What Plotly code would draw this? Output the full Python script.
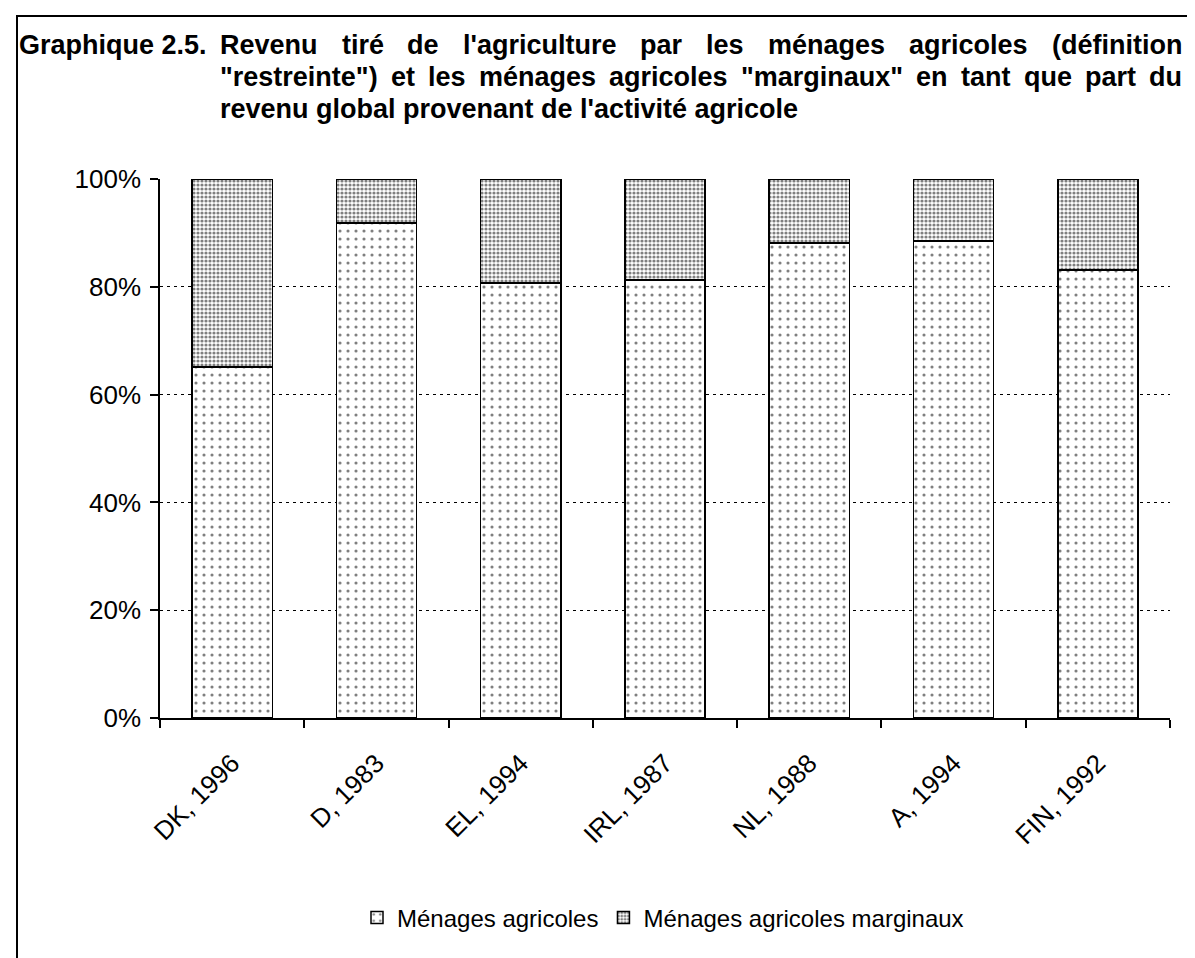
import plotly.graph_objects as go

categories = ["DK, 1996", "D, 1983", "EL, 1994", "IRL, 1987", "NL, 1988", "A, 1994", "FIN, 1992"]
menages_agricoles = [65.1, 91.8, 80.7, 81.3, 88.1, 88.5, 83.1]
menages_marginaux = [34.9, 8.2, 19.3, 18.7, 11.9, 11.5, 16.9]
y_ticks = [0, 20, 40, 60, 80, 100]
y_tick_labels = ["0%", "20%", "40%", "60%", "80%", "100%"]

title_label = "Graphique 2.5."
title_line1 = "Revenu tiré de l'agriculture par les ménages agricoles (définition"
title_line2 = "\"restreinte\") et les ménages agricoles \"marginaux\" en tant que part du"
title_line3 = "revenu global provenant de l'activité agricole"

OFF = 8  # page body margin
W, H = 1195 - OFF, 958 - OFF
# screen coordinates of plot area
SL, SR, ST, SB = 160, 1170, 179, 718
L, R, T, B = SL - OFF, SR - OFF, ST - OFF, SB - OFF
FONT = "Arial, Liberation Sans, sans-serif"


def px(x):
    return (x - SL) / (SR - SL)


def py(y):
    return (SB - y) / (SB - ST)


# Arial/Helvetica Bold advance widths (per 1000 em) for justification
AW = {
    'a': 556, 'b': 611, 'c': 556, 'd': 611, 'e': 556, 'f': 333, 'g': 611, 'h': 611, 'i': 278,
    'j': 278, 'k': 556, 'l': 278, 'm': 889, 'n': 611, 'o': 611, 'p': 611, 'q': 611, 'r': 389,
    's': 556, 't': 333, 'u': 611, 'v': 556, 'w': 778, 'x': 556, 'y': 556, 'z': 500, 'é': 556,
    'R': 722, 'G': 778, '"': 474, "'": 238, '(': 333, ')': 333, '.': 278, ' ': 278,
}


def text_w(s, size):
    return sum(AW.get(c, 556) for c in s) * size / 1000.0


fig = go.Figure()
fig.add_trace(go.Bar(
    x=categories, y=menages_agricoles, name="Ménages agricoles", width=0.556,
    marker=dict(color="white", line=dict(color="black", width=1.5),
                pattern=dict(shape=".", fgcolor="black", bgcolor="white", size=8, solidity=0.12)),
))
fig.add_trace(go.Bar(
    x=categories, y=menages_marginaux, name="Ménages agricoles marginaux", width=0.556,
    marker=dict(color="white", line=dict(color="black", width=1.5),
                pattern=dict(shape=".", fgcolor="black", bgcolor="white", size=4, solidity=0.5)),
))

annotations = []
TS = 27
annotations.append(dict(text="<b>" + title_label + "</b>", x=px(17), y=py(45), xref="paper", yref="paper",
                        xanchor="left", yanchor="middle", showarrow=False,
                        font=dict(family=FONT, size=TS, color="black")))


def justify(line, y, x0, x1):
    words = line.split(" ")
    widths = [text_w(w, TS) for w in words]
    gap = (x1 - x0 - sum(widths)) / (len(words) - 1)
    x = x0
    for w, wd in zip(words, widths):
        annotations.append(dict(text="<b>" + w + "</b>", x=px(x), y=py(y), xref="paper", yref="paper",
                                xanchor="left", yanchor="middle", showarrow=False,
                                font=dict(family=FONT, size=TS, color="black")))
        x += wd + gap


justify(title_line1, 45, 218, 1180)
justify(title_line2, 77, 218, 1180)
annotations.append(dict(text="<b>" + title_line3 + "</b>", x=px(218), y=py(109), xref="paper", yref="paper",
                        xanchor="left", yanchor="middle", showarrow=False,
                        font=dict(family=FONT, size=TS, color="black")))

shapes = [dict(type="rect", xref="paper", yref="paper", x0=px(17), x1=px(1215), y0=py(975), y1=py(16),
               line=dict(color="black", width=2), fillcolor="rgba(0,0,0,0)", layer="below")]

fig.update_layout(
    width=W, height=H,
    margin=dict(l=L, r=W - R, t=T, b=H - B, pad=0),
    paper_bgcolor="white", plot_bgcolor="white",
    barmode="stack", bargap=0.444,
    font=dict(family=FONT, size=25, color="black"),
    showlegend=True,
    legend=dict(orientation="h", x=px(663), y=py(918), xanchor="center", yanchor="middle",
                font=dict(family=FONT, size=24, color="black"), itemwidth=30,
                traceorder="normal", bgcolor="rgba(0,0,0,0)"),
    annotations=annotations,
    shapes=shapes,
)
fig.update_yaxes(range=[0, 100], tickvals=y_ticks, ticktext=y_tick_labels,
                 showline=True, linecolor="black", linewidth=1.5,
                 ticks="outside", ticklen=8, tickcolor="black", tickwidth=1.5,
                 showgrid=True, gridcolor="black", gridwidth=1, griddash="3px,4px",
                 zeroline=False, tickfont=dict(size=26), ticklabelstandoff=4)
fig.update_xaxes(showline=True, linecolor="black", linewidth=1.5,
                 ticks="outside", ticklen=8, tickcolor="black", tickwidth=1.5,
                 tickson="boundaries", tickangle=-45, showgrid=False,
                 tickfont=dict(size=26), ticklabelstandoff=18)

fig.write_html("out.html")
